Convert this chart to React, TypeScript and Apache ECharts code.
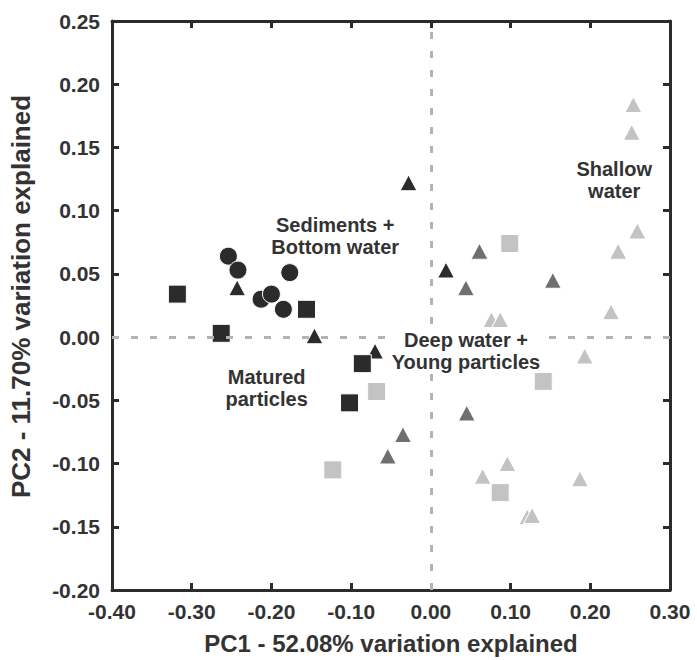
import React, { useEffect, useRef } from "react";
import * as echarts from "echarts";

const xTicks = { min: -0.4, max: 0.3, interval: 0.1 };
const yTicks = { min: -0.2, max: 0.25, interval: 0.05 };

const blackCircles: number[][] = [
  [-0.254, 0.064], [-0.242, 0.053], [-0.213, 0.030], [-0.200, 0.034], [-0.185, 0.022], [-0.177, 0.051],
];
const blackSquares: number[][] = [
  [-0.318, 0.034], [-0.156, 0.022], [-0.263, 0.003], [-0.086, -0.021], [-0.102, -0.052],
];
const blackTriangles: number[][] = [
  [-0.028, 0.122], [-0.243, 0.039], [-0.146, 0.001], [-0.070, -0.011], [0.019, 0.053],
];
const greyTriangles: number[][] = [
  [0.061, 0.068], [0.044, 0.039], [0.153, 0.045], [0.045, -0.060], [-0.035, -0.077], [-0.054, -0.094],
];
const lightSquares: number[][] = [
  [-0.068, -0.043], [0.099, 0.074], [0.141, -0.035], [-0.123, -0.105], [0.087, -0.123],
];
const lightTriangles: number[][] = [
  [0.076, 0.014], [0.087, 0.014], [0.254, 0.184], [0.252, 0.162], [0.259, 0.084], [0.235, 0.068],
  [0.226, 0.020], [0.193, -0.015], [0.065, -0.110], [0.096, -0.100], [0.187, -0.112], [0.121, -0.142],
  [0.127, -0.141],
];
const annotationTexts = ["Sediments +\nBottom water", "Matured\nparticles", "Deep water +\nYoung particles", "Shallow\nwater"];
const annotationX = [-0.120, -0.206, 0.044, 0.230];
const annotationY = [0.080, -0.040, -0.011, 0.124];

const FONT = "'Liberation Sans', Arial, sans-serif";
const TEXT = "#333333";
const BLACK = "#2b2b2b";
const GREY = "#6f6f6f";
const LIGHT = "#c3c3c3";

const fmt = (v: number) => (Math.abs(v) < 1e-9 ? "0.00" : v.toFixed(2));

export default function App() {
  const ref = useRef<HTMLDivElement>(null);
  useEffect(() => {
    if (!ref.current) return;
    const chart = echarts.init(ref.current, undefined, { renderer: "svg" });
    const axisLine = { show: true, onZero: false, lineStyle: { color: BLACK, width: 3 } };
    const axisTick = { show: true, inside: true, length: 7, lineStyle: { color: BLACK, width: 3 } };
    const mk = (data: number[][], symbol: string, size: any, color: string, z: number) => ({
      type: "scatter",
      data,
      symbol,
      symbolSize: size,
      z,
      itemStyle: { color, opacity: 1, borderColor: "#ffffff", borderWidth: 1 },
    });
    chart.setOption({
      animation: false,
      backgroundColor: "#ffffff",
      textStyle: { fontFamily: FONT },
      grid: { left: 112, right: 27, top: 21, bottom: 66 },
      xAxis: [
        {
          type: "value",
          position: "bottom",
          ...xTicks,
          axisLine,
          axisTick,
          splitLine: { show: false },
          axisLabel: { formatter: fmt, fontSize: 21, fontWeight: "bold", color: TEXT, margin: 11, fontFamily: FONT },
          name: "PC1 - 52.08% variation explained",
          nameLocation: "middle",
          nameGap: 41,
          nameTextStyle: { fontSize: 24, fontWeight: "bold", color: TEXT, fontFamily: FONT },
        },
        {
          type: "value",
          position: "top",
          ...xTicks,
          axisLine,
          axisTick,
          splitLine: { show: false },
          axisLabel: { show: false },
        },
      ],
      yAxis: [
        {
          type: "value",
          position: "left",
          ...yTicks,
          axisLine,
          axisTick,
          splitLine: { show: false },
          axisLabel: { formatter: fmt, fontSize: 21, fontWeight: "bold", color: TEXT, margin: 12, fontFamily: FONT },
          name: "PC2 - 11.70% variation explained",
          nameLocation: "middle",
          nameGap: 78,
          nameTextStyle: { fontSize: 26, fontWeight: "bold", color: TEXT, fontFamily: FONT, padding: [0, 0, 0, 18] },
        },
        {
          type: "value",
          position: "right",
          ...yTicks,
          axisLine,
          axisTick,
          splitLine: { show: false },
          axisLabel: { show: false },
        },
      ],
      series: [
        {
          type: "scatter",
          data: [],
          z: 1,
          markLine: {
            silent: true,
            symbol: "none",
            label: { show: false },
            lineStyle: { type: [7, 12], color: "#b3b3b3", width: 3 },
            data: [{ xAxis: 0 }, { yAxis: 0 }],
          },
        },
        mk(lightTriangles, "triangle", [17, 16], LIGHT, 2),
        mk(lightSquares, "rect", 18, LIGHT, 2),
        mk(greyTriangles, "triangle", [17, 16], GREY, 3),
        mk(blackTriangles, "triangle", [17, 16], BLACK, 4),
        mk(blackSquares, "rect", 18, BLACK, 4),
        mk(blackCircles, "circle", 18, BLACK, 4),
        {
          type: "scatter",
          z: 5,
          symbolSize: 1,
          itemStyle: { color: "rgba(0,0,0,0)", opacity: 1 },
          data: annotationTexts.map((t, i) => ({ name: t, value: [annotationX[i], annotationY[i]] })),
          label: {
            show: true,
            position: "inside",
            formatter: "{b}",
            fontSize: 20,
            fontWeight: "bold",
            lineHeight: 22,
            color: TEXT,
            opacity: 1,
            textBorderWidth: 0,
            fontFamily: FONT,
            backgroundColor: "#ffffff",
            padding: [0, 2],
            align: "center",
          },
        },
      ],
    });
    return () => chart.dispose();
  }, []);
  return <div ref={ref} style={{ position: "absolute", left: 0, top: 0, width: 697, height: 660 }} />;
}
